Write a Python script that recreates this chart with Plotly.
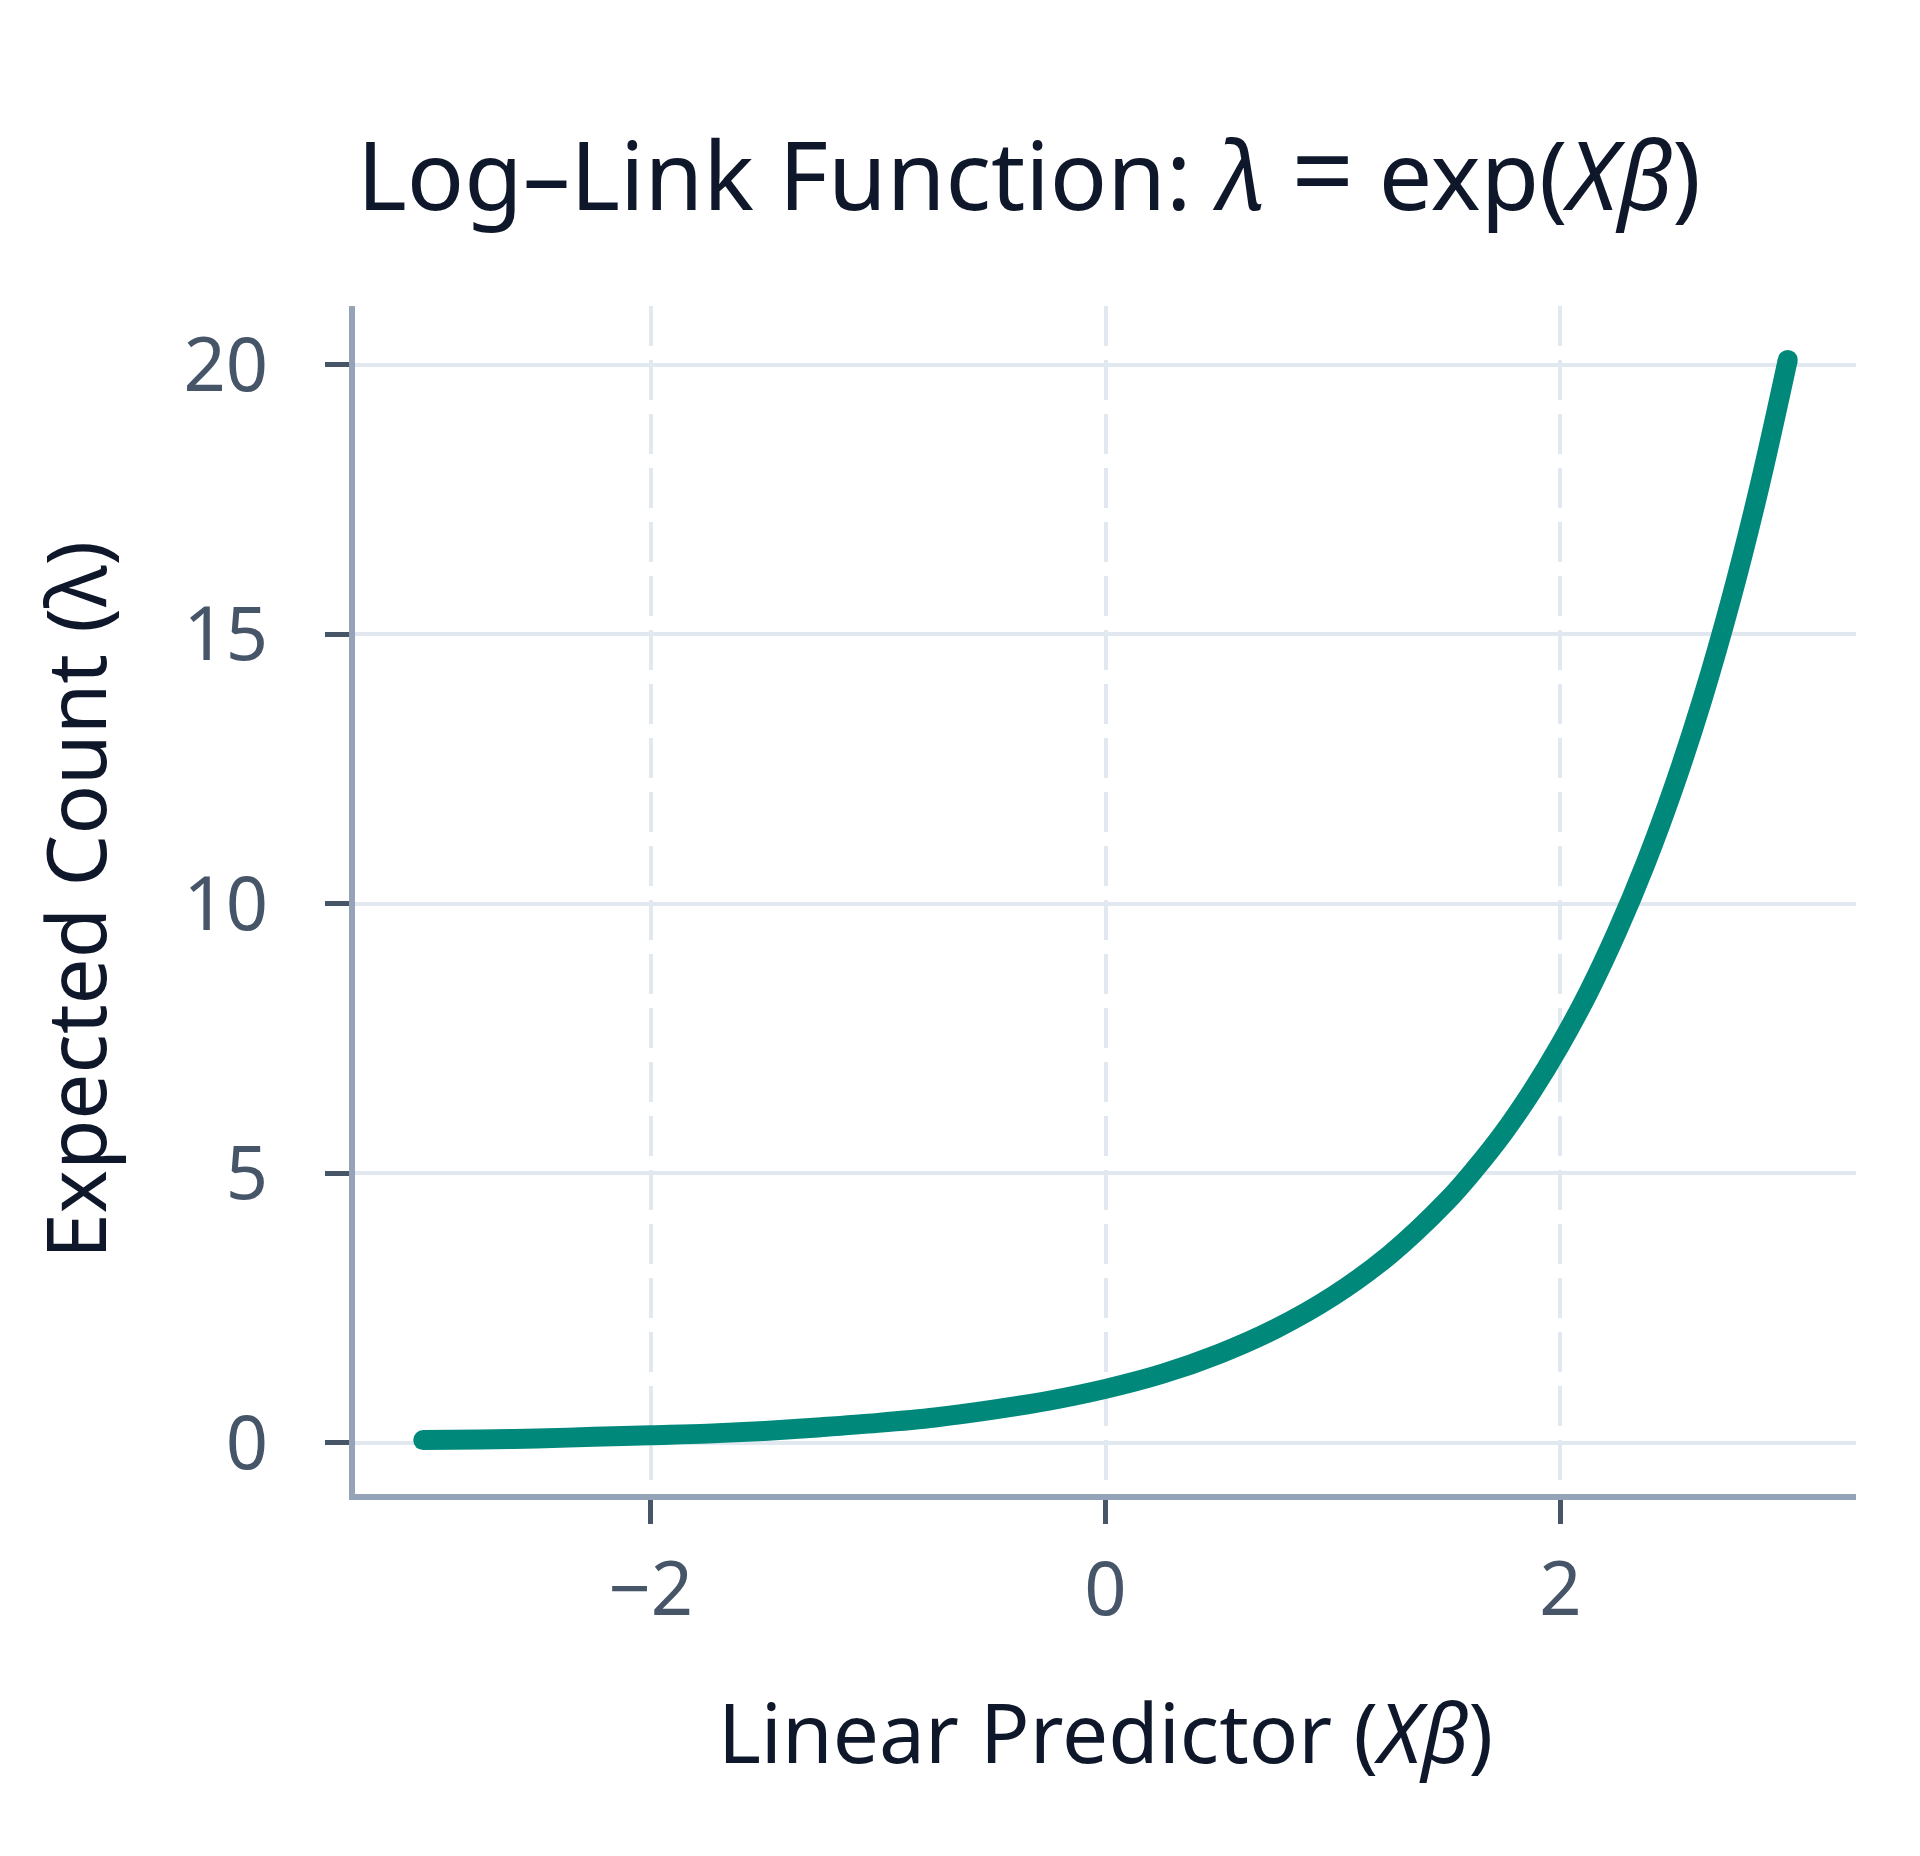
import plotly.graph_objects as go

# linear predictor values and expected counts
xb = [-3.0, -2.75, -2.5, -2.25, -2.0, -1.75, -1.5, -1.25, -1.0, -0.75, -0.5,
      -0.25, 0.0, 0.25, 0.5, 0.75, 1.0, 1.25, 1.5, 1.625, 1.75, 1.875, 2.0,
      2.125, 2.25, 2.375, 2.5, 2.625, 2.75, 2.875, 3.0]
lam = [0.05, 0.06, 0.08, 0.11, 0.14, 0.17, 0.22, 0.29, 0.37, 0.47, 0.61,
       0.78, 1.0, 1.28, 1.65, 2.12, 2.72, 3.49, 4.48, 5.08, 5.75, 6.52, 7.39,
       8.37, 9.49, 10.75, 12.18, 13.8, 15.64, 17.73, 20.09]

x_ticks = [-2, 0, 2]
x_labels = ["−2", "0", "2"]
y_ticks = [0, 5, 10, 15, 20]

teal = "#00897b"
font = "Noto Sans"

fig = go.Figure()
fig.add_trace(go.Scatter(
    x=xb, y=lam, mode="lines",
    line=dict(color=teal, width=20, shape="spline", smoothing=1),
    hoverinfo="skip", showlegend=False,
))
# round ends of the curve
fig.add_trace(go.Scatter(
    x=[xb[0], xb[-1]], y=[lam[0], lam[-1]], mode="markers",
    marker=dict(color=teal, size=20, line=dict(width=0)),
    hoverinfo="skip", showlegend=False,
))

fig.update_layout(
    width=1920, height=1856,
    margin=dict(l=347, r=72, t=298, b=370),
    paper_bgcolor="white", plot_bgcolor="white",
    font=dict(family=font, color="#0f172a"),
    title=dict(
        text="Log–Link Function: <i>λ</i> <span style='font-size:110px'>=</span> exp(<i>Xβ</i>)",
        font=dict(size=95, color="#0f172a", family=font),
        xref="paper", x=0.449, xanchor="center",
        yref="container", y=0.909, yanchor="middle",
    ),
)
fig.update_xaxes(
    range=[-3.3, 3.3], tickvals=x_ticks, ticktext=x_labels,
    showgrid=True, gridcolor="#e2e8f0", gridwidth=4, griddash="40px,14px",
    showline=True, linecolor="#94a3b8", linewidth=6,
    ticks="outside", ticklen=24, tickwidth=5, tickcolor="#475569",
    tickfont=dict(size=74, color="#475569", family=font),
    ticklabelstandoff=2,
    zeroline=False,
    title=dict(text="Linear Predictor (<i>Xβ</i>)", font=dict(size=82, color="#0f172a"),
               standoff=72),
)
fig.update_yaxes(
    range=[-0.95, 21.09], tickvals=y_ticks,
    showgrid=True, gridcolor="#e2e8f0", gridwidth=4,
    showline=True, linecolor="#94a3b8", linewidth=6,
    ticks="outside", ticklen=24, tickwidth=5, tickcolor="#475569",
    tickfont=dict(size=74, color="#475569", family=font),
    ticklabelstandoff=42,
    zeroline=False,
    title=dict(text="Expected Count (λ)", font=dict(size=82, color="#0f172a"),
               standoff=52),
)

fig.write_html("out.html")
